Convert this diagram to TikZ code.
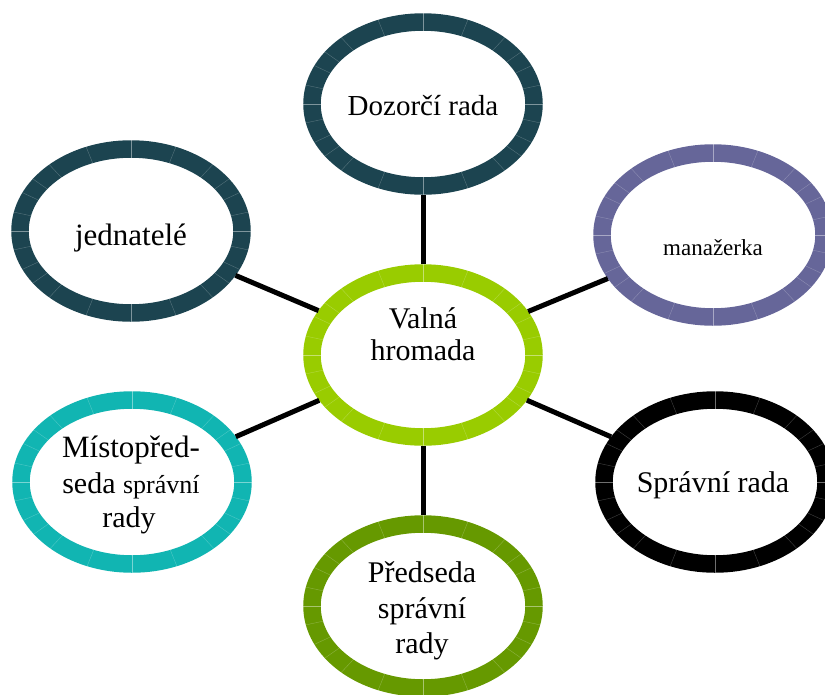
\documentclass[tikz,border=0pt]{standalone}
\usepackage{fontspec}
\setmainfont{Liberation Serif}
\definecolor{cdark}{HTML}{1C4450}
\definecolor{cpurple}{HTML}{666699}
\definecolor{cteal}{HTML}{11B5B2}
\definecolor{cgreen}{HTML}{669900}
\definecolor{clime}{HTML}{99CC00}
\tikzset{
  ringnode/.style={ellipse, line width=17.5pt, fill=white, minimum width=222pt, minimum height=164pt, inner sep=0pt},
  segline/.style={white, opacity=0.25, line width=0.4pt},
  conn/.style={line width=5pt, black},
  txt/.style={anchor=base, inner sep=0pt, font=\fontsize{30}{34}\selectfont},
}
\usetikzlibrary{shapes.geometric}
\newcommand\ringsegs[1]{%
  \begin{scope}[shift={(#1.center)}]
    \foreach \a in {0,12,25,35,47,68,90}{
      \foreach \s in {\a,180-\a,180+\a,360-\a}{
        \draw[segline] (\s:102 and 73) -- (\s:120 and 91);
      }
    }
  \end{scope}}
\begin{document}
\begin{tikzpicture}[x=1pt,y=-1pt]
\useasboundingbox[fill=white] (0,0) rectangle (825,694);
% rings
\node[ringnode, draw=cdark] (dr) at (423,104) {};
\node[ringnode, draw=clime] (vh) at (423,355) {};
\node[ringnode, draw=cpurple] (man) at (713,235) {};
\node[ringnode, draw=black] (sr) at (715,482) {};
\node[ringnode, draw=cgreen] (pr) at (423,606) {};
\node[ringnode, draw=cteal] (mi) at (132,482) {};
\node[ringnode, draw=cdark] (je) at (131,231) {};
\foreach \n in {dr,vh,man,sr,pr,mi,je}{\ringsegs{\n}}
% connectors
\draw[conn] (vh) -- (dr);
\draw[conn] (vh) -- (man);
\draw[conn] (vh) -- (sr);
\draw[conn] (vh) -- (pr);
\draw[conn] (vh) -- (mi);
\draw[conn] (vh) -- (je);
% texts
\node[txt, font=\fontsize{29}{32}\selectfont] (dr-t) at (423,115) {Dozorčí rada};
\node[txt] (vh-t1) at (423,328) {Valná};
\node[txt] (vh-t2) at (423,360) {hromada};
\node[txt, font=\fontsize{23}{26}\selectfont] (man-t) at (713,255) {manažerka};
\node[txt] (sr-t) at (713,492) {Správní rada};
\node[txt] (pr-t1) at (422,582) {Předseda};
\node[txt] (pr-t2) at (422,618) {správní};
\node[txt] (pr-t3) at (422,653) {rady};
\node[txt, font=\fontsize{31}{34}\selectfont] (mi-t1) at (131,457) {Místopřed-};
\node[txt] (mi-t2) at (131,493) {seda {\fontsize{26}{30}\selectfont správní}};
\node[txt] (mi-t3) at (129,527) {rady};
\node[txt, font=\fontsize{31}{34}\selectfont] (je-t) at (131,245) {jednatelé};
\end{tikzpicture}
\end{document}
